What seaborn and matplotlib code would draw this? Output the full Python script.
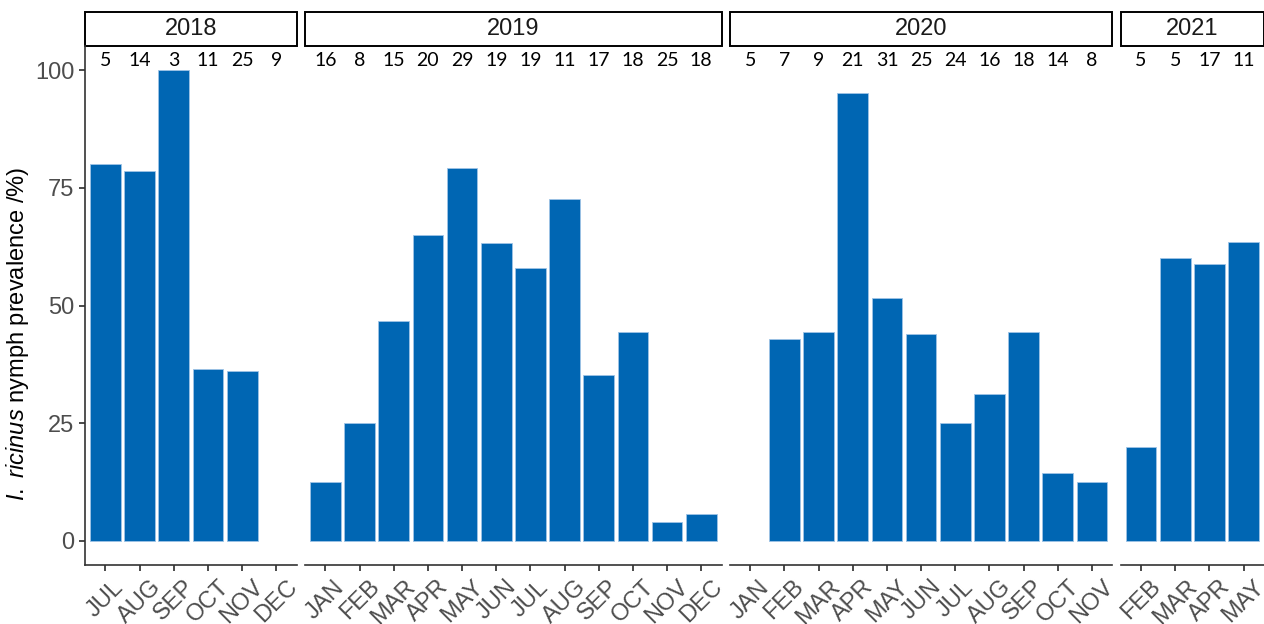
import matplotlib
matplotlib.use("Agg")
import matplotlib.pyplot as plt
from matplotlib.patches import Rectangle
import seaborn as sns
import pandas as pd

# prevalence per month and number of nymphs tested
years = ["2018", "2019", "2020", "2021"]
months_2018 = ["JUL", "AUG", "SEP", "OCT", "NOV", "DEC"]
prev_2018 = [80.0, 78.6, 100.0, 36.4, 36.0, 0.0]
n_2018 = [5, 14, 3, 11, 25, 9]

months_2019 = ["JAN", "FEB", "MAR", "APR", "MAY", "JUN", "JUL", "AUG", "SEP", "OCT", "NOV", "DEC"]
prev_2019 = [12.5, 25.0, 46.7, 65.0, 79.3, 63.2, 57.9, 72.7, 35.3, 44.4, 4.0, 5.6]
n_2019 = [16, 8, 15, 20, 29, 19, 19, 11, 17, 18, 25, 18]

months_2020 = ["JAN", "FEB", "MAR", "APR", "MAY", "JUN", "JUL", "AUG", "SEP", "OCT", "NOV"]
prev_2020 = [0.0, 42.9, 44.4, 95.2, 51.6, 44.0, 25.0, 31.2, 44.4, 14.3, 12.5]
n_2020 = [5, 7, 9, 21, 31, 25, 24, 16, 18, 14, 8]

months_2021 = ["FEB", "MAR", "APR", "MAY"]
prev_2021 = [20.0, 60.0, 58.8, 63.6]
n_2021 = [5, 5, 17, 11]

panels = [
    (months_2018, prev_2018, n_2018),
    (months_2019, prev_2019, n_2019),
    (months_2020, prev_2020, n_2020),
    (months_2021, prev_2021, n_2021),
]

sns.set_theme(style="ticks")
plt.rcParams['font.family'] = ['Liberation Sans', 'DejaVu Sans']
plt.rcParams['mathtext.fontset'] = 'custom'
plt.rcParams['mathtext.it'] = 'Liberation Sans:italic'
plt.rcParams['mathtext.rm'] = 'Liberation Sans'

bar_col = "#0066B3"
grey = "#4D4D4D"

fig = plt.figure(figsize=(12.64, 6.24), dpi=100)
gs = fig.add_gridspec(1, 4, width_ratios=[len(p[0]) + 0.2 for p in panels],
                      left=85 / 1264, right=1.0, bottom=1 - 565 / 624, top=1 - 46 / 624,
                      wspace=0.028)

for i, (months, prev, n) in enumerate(panels):
    ax = fig.add_subplot(gs[0, i])
    df = pd.DataFrame({"month": months, "prev": prev})
    sns.barplot(data=df, x="month", y="prev", order=months, color=bar_col,
                saturation=1, width=0.9, edgecolor="#9FC3E6", linewidth=0.6, ax=ax)
    # months with 0 % prevalence draw no bar at all
    for p in ax.patches:
        if p.get_height() == 0:
            p.set_visible(False)
    ax.set_xlim(-0.6, len(months) - 0.4)
    ax.set_ylim(-5.2, 105.2)
    for j, c in enumerate(n):
        ax.text(j, 102.2, str(c), ha="center", va="center", fontsize=14,
                family="Lato", color="black")
    ax.set_xlabel("")
    ax.set_ylabel("")
    ax.spines["top"].set_visible(False)
    ax.spines["right"].set_visible(False)
    ax.spines["bottom"].set_color("#333333")
    ax.spines["bottom"].set_linewidth(1.2)
    ax.tick_params(axis="x", colors="#333333", labelcolor=grey, labelsize=17, length=4, pad=4)
    plt.setp(ax.get_xticklabels(), rotation=45, ha="center", va="top")
    if i == 0:
        ax.set_yticks([0, 25, 50, 75, 100])
        ax.tick_params(axis="y", colors="#333333", labelcolor=grey, labelsize=17, length=4)
        ax.spines["left"].set_color("#333333")
        ax.spines["left"].set_linewidth(1.2)
        ax.set_ylabel(r"$\it{I.\ ricinus}$ nymph prevalence /%)", fontsize=17,
                      color="black")
        ax.yaxis.set_label_coords(-0.255, 0.445)
    else:
        ax.spines["left"].set_visible(False)
        ax.set_yticks([])
    # year strip
    ax.add_patch(Rectangle((0, 1.0), 1, 0.066, transform=ax.transAxes, clip_on=False,
                           facecolor="white", edgecolor="black", linewidth=1.4))
    ax.text(0.5, 1.033, years[i], transform=ax.transAxes, ha="center", va="center",
            fontsize=17, color="#1A1A1A")

fig.savefig("out.png", dpi=100)
